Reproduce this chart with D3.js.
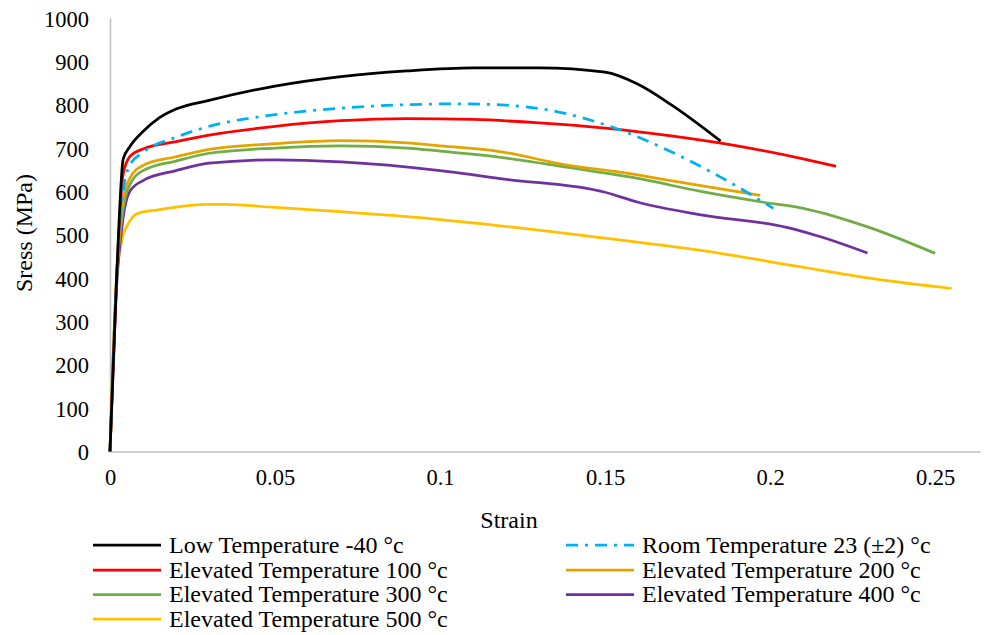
<!DOCTYPE html>
<html><head><meta charset="utf-8"><script src="https://cdn.jsdelivr.net/npm/d3@7"></script></head>
<body style="margin:0">
<svg id="chart" width="989" height="635"></svg>
<script>
// ---- data ----
const seriesNames = [
  "Low Temperature -40 °c",
  "Room Temperature 23 (±2) °c",
  "Elevated Temperature 100 °c",
  "Elevated Temperature 200 °c",
  "Elevated Temperature 300 °c",
  "Elevated Temperature 400 °c",
  "Elevated Temperature 500 °c"
];
const seriesColors = ["#000000", "#00B0F0", "#FF0000", "#E2A500", "#70AD47", "#7030A0", "#FFC000"];

const strainLow = [0, 0.002, 0.004, 0.006, 0.01, 0.015, 0.02, 0.03, 0.05, 0.07, 0.09, 0.11, 0.13, 0.15, 0.16, 0.17, 0.185];
const stressLow = [0, 400, 675, 703, 738, 770, 790, 810, 843, 865, 878, 885, 885, 875, 847, 800, 716];

const strainRoom = [0, 0.002, 0.004, 0.006, 0.01, 0.02, 0.03, 0.05, 0.07, 0.09, 0.105, 0.12, 0.136, 0.153, 0.169, 0.185, 0.201];
const stressRoom = [0, 400, 600, 660, 690, 725, 750, 777, 792, 800, 802, 799, 783, 746, 695, 633, 561];

const strain100 = [0, 0.002, 0.004, 0.006, 0.01, 0.02, 0.03, 0.05, 0.07, 0.09, 0.11, 0.13, 0.15, 0.17, 0.19, 0.21, 0.22];
const stress100 = [0, 400, 640, 680, 698, 715, 730, 750, 763, 768, 766, 758, 746, 728, 705, 675, 658];

const strain200 = [0, 0.002, 0.004, 0.006, 0.01, 0.02, 0.03, 0.05, 0.07, 0.09, 0.1, 0.118, 0.139, 0.153, 0.169, 0.185, 0.197];
const stress200 = [0, 400, 580, 630, 660, 680, 697, 710, 717, 712, 705, 692, 660, 646, 626, 606, 591];

const strain300 = [0, 0.002, 0.004, 0.006, 0.01, 0.02, 0.03, 0.05, 0.07, 0.09, 0.1, 0.12, 0.14, 0.16, 0.179, 0.198, 0.21, 0.23, 0.25];
const stress300 = [0, 400, 560, 615, 648, 670, 688, 700, 705, 700, 693, 677, 654, 630, 600, 575, 561, 517, 457];

const strain400 = [0, 0.002, 0.004, 0.006, 0.01, 0.02, 0.03, 0.05, 0.07, 0.1, 0.12, 0.15, 0.16, 0.179, 0.205, 0.215, 0.2295];
const stress400 = [0, 380, 540, 600, 625, 648, 665, 673, 668, 648, 628, 598, 575, 546, 517, 496, 458];

const strain500 = [0, 0.002, 0.004, 0.0055, 0.008, 0.015, 0.03, 0.035, 0.05, 0.1, 0.15, 0.179, 0.21, 0.23, 0.255];
const stress500 = [0, 400, 500, 525, 548, 558, 570, 570, 563, 535, 492, 464, 425, 400, 376];

const xTicks = [0, 0.05, 0.1, 0.15, 0.2, 0.25];
const xTickLabels = ["0", "0.05", "0.1", "0.15", "0.2", "0.25"];
const yTicks = [0, 100, 200, 300, 400, 500, 600, 700, 800, 900, 1000];
const yTickLabels = ["0", "100", "200", "300", "400", "500", "600", "700", "800", "900", "1000"];

const strains = [strainLow, strainRoom, strain100, strain200, strain300, strain400, strain500];
const stresses = [stressLow, stressRoom, stress100, stress200, stress300, stress400, stress500];
const series = seriesNames.map((name, i) => ({
  name, color: seriesColors[i], dashed: i === 1,
  points: strains[i].map((s, j) => [s, stresses[i][j]])
}));

// ---- layout ----
const svg = d3.select("#chart");
const plotLeft = 110, plotRight = 980, plotTop = 18, plotBottom = 451.5;
const x = d3.scaleLinear().domain([0, 0.2636]).range([plotLeft, plotRight]);
const y = d3.scaleLinear().domain([0, 1000]).range([plotBottom, plotTop]);

function serif(sel, size) {
  sel.each(function () {
    this.style.setProperty("font-family", '"Liberation Serif", Tinos, "Times New Roman", serif', "important");
    this.style.setProperty("font-size", size + "px", "important");
  });
  return sel.attr("fill", "#000");
}

// axes
const xAxis = svg.append("g").attr("transform", `translate(0,${plotBottom})`)
  .call(d3.axisBottom(x).tickValues(xTicks).tickFormat((d, i) => xTickLabels[i]).tickSize(0).tickPadding(18));
const yAxis = svg.append("g").attr("transform", `translate(${plotLeft},0)`)
  .call(d3.axisLeft(y).tickValues(yTicks).tickFormat((d, i) => yTickLabels[i]).tickSize(0).tickPadding(21));
[xAxis, yAxis].forEach(g => {
  g.attr("font-family", null).attr("font-size", null);
  g.select(".domain").attr("stroke", "#BFBFBF").attr("stroke-width", 1.5);
  serif(g.selectAll("text"), 22.5);
});
yAxis.selectAll("text").attr("dy", "0.36em");

// lines
const line = d3.line().x(d => x(d[0])).y(d => y(d[1])).curve(d3.curveMonotoneX);
const drawOrder = [6, 5, 4, 3, 2, 1, 0];
drawOrder.forEach(i => {
  const s = series[i];
  svg.append("path").datum(s.points)
    .attr("d", line)
    .attr("fill", "none")
    .attr("stroke", s.color)
    .attr("stroke-width", 2.75)
    .attr("stroke-linejoin", "round")
    .attr("stroke-dasharray", s.dashed ? "12,7,3,7" : null);
});

// axis titles
serif(svg.append("text").attr("x", 509).attr("y", 528).attr("text-anchor", "middle"), 24).text("Strain");
serif(svg.append("text").attr("transform", "translate(32,233) rotate(-90)").attr("text-anchor", "middle"), 24).text("Sress (MPa)");

// legend
const legCols = [93, 566];
const legRows = [545, 570, 594.5, 619];
const legend = svg.append("g");
series.forEach((s, i) => {
  const cx = legCols[i % 2], cy = legRows[Math.floor(i / 2)];
  legend.append("line").attr("x1", cx).attr("x2", cx + 68).attr("y1", cy).attr("y2", cy)
    .attr("stroke", s.color).attr("stroke-width", 2.75)
    .attr("stroke-dasharray", s.dashed ? "12,7,3,7" : null);
  serif(legend.append("text").attr("x", cx + 76).attr("y", cy).attr("dy", "0.33em"), 24).text(s.name);
});
</script>
</body>
</html>
